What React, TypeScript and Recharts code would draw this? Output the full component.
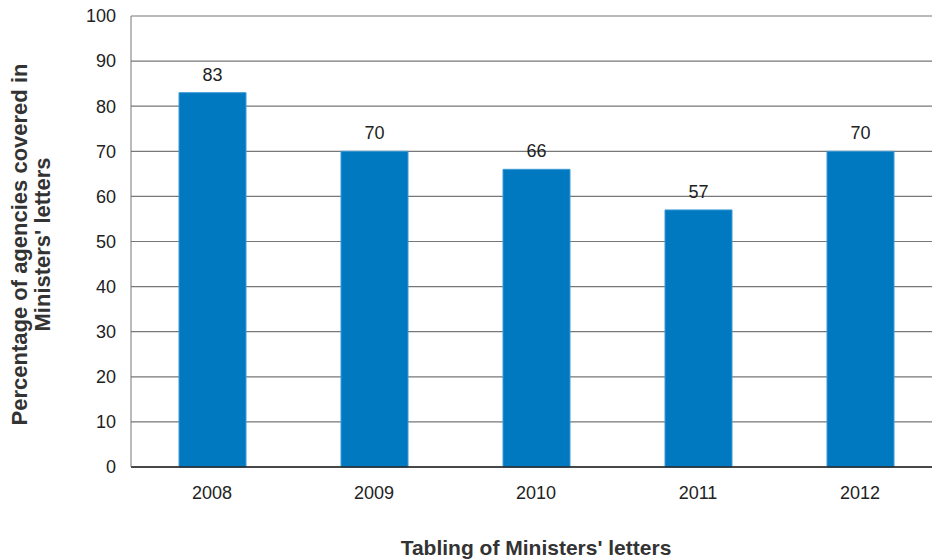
import { BarChart, Bar, XAxis, YAxis, CartesianGrid, LabelList, Label } from 'recharts'

const years = ['2008', '2009', '2010', '2011', '2012']
const coverage = [83, 70, 66, 57, 70]
const yTicks = [0, 10, 20, 30, 40, 50, 60, 70, 80, 90, 100]

const data = years.map((year, i) => ({ year, value: coverage[i] }))

const font = 'Liberation Sans, Arial, sans-serif'

function YTitle(props: any) {
  const vb = props.viewBox || {}
  const cy = vb.y + vb.height / 2 + 3
  return (
    <g fontFamily={font} fontSize={22} fontWeight="bold" fill="#333">
      <text x={19} y={cy} transform={`rotate(-90 19 ${cy})`} textAnchor="middle" dominantBaseline="central">
        Percentage of agencies covered in
      </text>
      <text x={42} y={cy} transform={`rotate(-90 42 ${cy})`} textAnchor="middle" dominantBaseline="central">
        Ministers' letters
      </text>
    </g>
  )
}

function XTitle() {
  return (
    <text x={536} y={547} textAnchor="middle" dominantBaseline="central"
      fontFamily={font} fontSize={21} fontWeight="bold" fill="#333">
      Tabling of Ministers' letters
    </text>
  )
}

export default function App() {
  return (
    <div style={{ position: 'fixed', top: 0, left: 0, width: 932, height: 559, background: '#fff', overflow: 'hidden' }}>
      <style>{'html,body{margin:0;padding:0;overflow:hidden}'}</style>
      <BarChart width={932} height={559} data={data} margin={{ top: 16, right: -9, bottom: 0, left: 0 }}>
        <CartesianGrid vertical={false} stroke="#777" strokeWidth={1.2} />
        <XAxis dataKey="year" height={92} axisLine={{ stroke: '#222', strokeWidth: 1.5 }} tickLine={false}
          tickSize={0} tickMargin={19} tick={{ fontFamily: font, fontSize: 18, fill: '#222' }}>
          <Label content={<XTitle />} />
        </XAxis>
        <YAxis width={131} domain={[0, 100]} ticks={yTicks} interval={0} axisLine={{ stroke: '#777' }} tickLine={false}
          tickSize={0} tickMargin={15} tick={{ fontFamily: font, fontSize: 18, fill: '#222' }}>
          <Label content={<YTitle />} />
        </YAxis>
        <Bar dataKey="value" fill="#0079C1" stroke="#3d9ad6" strokeWidth={1} barSize={67} isAnimationActive={false}>
          <LabelList dataKey="value" position="top" offset={12} style={{ fontFamily: font, fontSize: 18, fill: '#222' }} />
        </Bar>
      </BarChart>
    </div>
  )
}
